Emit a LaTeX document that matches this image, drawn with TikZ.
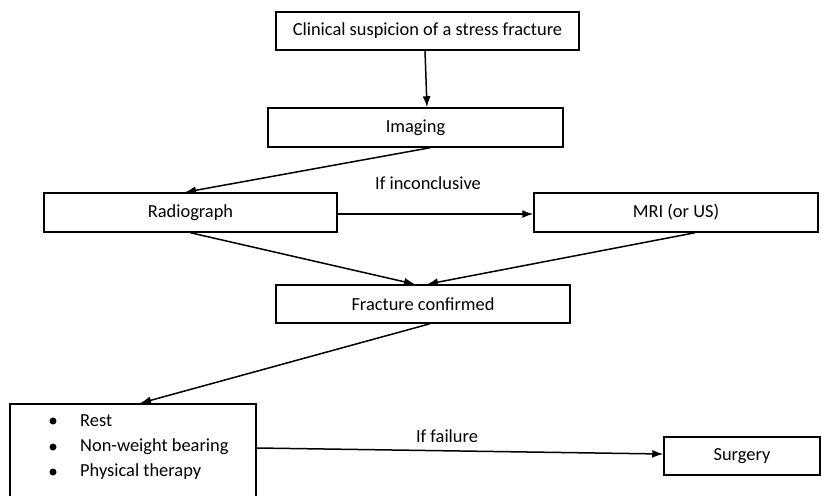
\documentclass[tikz,border=0pt]{standalone}
\usepackage{fontspec}
\setmainfont{Carlito}
\usetikzlibrary{arrows.meta}
\begin{document}
\begin{tikzpicture}[x=1pt,y=-1pt,
  box/.style={draw, line width=1.5pt, inner sep=0pt, font=\fontsize{18.4}{22}\selectfont},
  lbl/.style={inner sep=0pt, font=\fontsize{18.4}{22}\selectfont},
  arr/.style={-{Latex[length=11pt,width=8pt]}, line width=1.5pt}]
\useasboundingbox (0,0) rectangle (821,495);
\node[box, minimum width=303pt, minimum height=38pt] (sus) at (427.5,31) {Clinical suspicion of a stress fracture};
\node[box, minimum width=295pt, minimum height=39pt] (img) at (415.5,127.5) {Imaging};
\node[box, minimum width=293pt, minimum height=39pt] (rad) at (190.5,212.5) {Radiograph};
\node[box, minimum width=284pt, minimum height=39pt] (mri) at (676,212.5) {MRI (or US)};
\node[box, minimum width=294pt, minimum height=38pt] (frac) at (423,304) {Fracture confirmed};
\node[box, minimum width=246pt, minimum height=100pt] (treat) at (133,454) {};
\node[box, minimum width=156pt, minimum height=38pt] (surg) at (742,456) {Surgery};
\foreach \t/\yy in {Rest/421, Non-weight bearing/447, Physical therapy/472}{
  \fill (53,\yy) circle (3.5pt);
  \node[lbl, anchor=west] at (80,\yy) {\t};
}
\node[lbl] (inc) at (428,183) {If inconclusive};
\node[lbl] (fail) at (447,436) {If failure};
\draw[arr] ([xshift=-2.5pt]sus.south) -- ([xshift=11.5pt]img.north);
\draw[arr] ([xshift=14.5pt]img.south) -- ([xshift=-5.5pt]rad.north);
\draw[arr] ([yshift=-1.5pt]rad.east) -- ([yshift=-1.5pt]mri.west);
\draw[arr] (rad.south) -- ([xshift=-8pt]frac.north);
\draw[arr] ([xshift=19pt]mri.south) -- ([xshift=4pt]frac.north);
\draw[arr] ([xshift=7pt]frac.south) -- ([xshift=7pt]treat.north);
\draw[arr] ([yshift=6pt]treat.east) -- ([yshift=2pt]surg.west);
\end{tikzpicture}
\end{document}
